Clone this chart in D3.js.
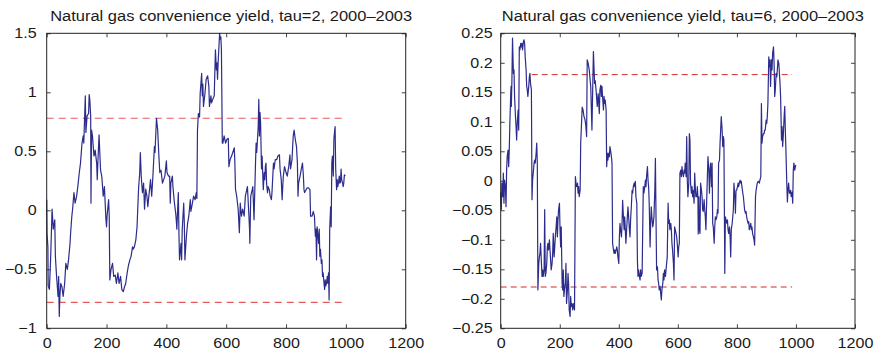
<!DOCTYPE html>
<meta charset="utf-8">

<!-- Load d3.js -->
<script src="https://d3js.org/d3.v7.min.js"></script>

<style>
  body { margin: 0; background: #fff; }
  text { font-family: "Liberation Sans", Arial, Helvetica, sans-serif; fill: #1a1a1a; }
</style>

<svg id="chart" width="879" height="352"></svg>

<script>
// ---- data ----
var xTicks = [0, 200, 400, 600, 800, 1000, 1200];

// left panel: tau = 2
var leftDays = [0,1,4,5,9,13,18,22,27,29,33,38,40,42,44,47,51,55,60,64,69,73,78,80,84,87,91,95,100,104,109,113,118,122,124,129,131,135,140,142,144,147,148,150,153,158,162,167,169,171,175,180,184,189,193,198,200,202,207,209,211,215,220,224,229,233,238,242,247,251,256,260,264,269,273,278,282,287,289,293,298,302,307,311,313,316,320,324,327,331,335,
  338,347,351,355,360,362,367,371,375,378,382,387,391,395,400,402,407,411,413,415,420,422,427,431,433,435,440,442,444,449,451,453,458,460,462,467,471,475,480,482,487,491,496,500,502,504,507,511,513,518,520,522,524,529,533,538,542,544,549,551,555,560,564,567,569,571,573,578,580,582,584,587,589,593,598,602,607,609,613,618,622,627,629,631,635,640,644,647,651,655,660,664,671,676,
  678,679,682,687,689,693,698,700,702,707,709,711,713,715,718,720,722,724,727,729,731,733,735,738,740,744,747,751,753,758,760,764,769,773,778,780,784,787,789,791,795,800,804,809,813,815,820,824,827,831,833,835,838,840,842,847,851,855,858,860,862,867,871,875,880,882,887,891,895,898,900,902,904,907,909,911,913,915,918,920,922,924,927,929,931,933,935,938,940,942,944,946,949,951,953,955,958,960,962,964,966,969,971,973,975,978,980,982,984,986,989,991,993,995,998];
var leftYield = [0.09,-0.19,-0.31,-0.64,-0.67,-0.42,0.01,-0.16,-0.08,-0.39,-0.56,-0.73,-0.56,-0.90,-0.73,-0.62,-0.65,-0.73,-0.62,-0.45,-0.50,-0.42,-0.28,-0.19,-0.05,0.02,0.15,0.06,0.12,0.20,0.32,0.40,0.57,0.63,0.57,0.97,0.66,0.80,0.82,0.98,0.94,0.80,0.06,0.68,0.63,0.46,0.51,0.40,0.26,0.40,0.64,0.34,0.29,0.12,0.20,-0.08,-0.14,-0.04,0.09,-0.05,-0.59,-0.50,-0.45,-0.56,-0.55,-0.62,-0.53,-0.62,-0.56,-0.67,-0.69,-0.65,-0.62,-0.53,-0.47,-0.42,-0.39,-0.31,-0.33,-0.31,-0.25,-0.14,0.18,0.32,0.49,0.29,0.15,0.23,0.01,0.18,0.12,
  0.03,0.26,0.12,0.29,0.54,0.49,0.78,0.68,0.46,0.32,0.34,0.23,0.26,0.29,0.42,0.32,0.29,0.29,0.06,0.23,0.29,0.20,0.06,-0.02,-0.08,-0.16,0.15,-0.19,-0.42,-0.28,-0.42,-0.16,0.06,-0.11,-0.42,-0.22,-0.11,-0.05,0.09,-0.01,0.06,0.12,0.09,0.15,0.10,0.68,0.82,0.79,0.99,1.16,0.97,1.07,0.88,0.99,1.11,1.14,1.05,0.88,0.97,0.91,0.94,0.97,1.36,1.19,1.25,1.11,1.25,1.50,1.45,1.47,1.36,0.57,0.57,0.63,0.57,0.60,0.61,0.37,0.43,0.46,0.49,0.53,0.40,0.18,0.12,0.01,-0.19,0.06,-0.05,0.01,-0.05,0.12,0.20,-0.05,
  -0.16,-0.28,0.12,0.175,0.20,-0.08,0.40,0.57,0.49,0.71,0.94,0.63,0.83,0.74,0.35,0.46,0.32,0.175,0.32,0.26,0.37,0.40,0.23,0.15,0.20,0.175,0.12,0.09,0.15,0.40,0.35,0.43,0.43,0.46,0.47,0.35,0.26,0.09,0.20,0.29,0.37,0.32,0.29,0.37,0.47,0.35,0.43,0.63,0.68,0.60,0.57,0.54,0.40,0.12,0.23,0.29,0.35,0.40,0.29,0.175,0.15,0.175,0.19,0.19,0.175,-0.05,-0.05,-0.01,-0.05,-0.22,-0.16,-0.42,-0.14,-0.22,-0.28,-0.16,-0.39,-0.33,-0.45,-0.42,-0.56,-0.53,-0.62,-0.67,-0.59,-0.64,-0.62,-0.56,-0.62,-0.53,-0.76,-0.16,0.03,-0.14,0.40,0.46,0.29,0.60,0.66,0.71,0.35,0.175,0.26,0.20,0.23,0.29,0.23,0.24,0.35,0.26,0.23,0.20,0.23,0.30,0.29];
var leftBand = [-0.78, 0.78];
var leftBandRange = [[0, 1000], [0, 1000]];
var leftYTicks = [-1, -0.5, 0, 0.5, 1, 1.5];

// right panel: tau = 6
var rightDays = [0,2,4,7,9,11,13,16,18,20,22,25,27,29,31,34,35,36,38,40,43,45,47,50,52,54,56,59,61,63,65,68,70,72,74,77,79,81,83,86,88,90,92,95,97,99,101,104,106,108,111,113,115,117,120,122,124,126,129,131,133,135,138,140,142,144,147,149,151,153,156,158,160,162,165,167,169,171,174,176,178,181,183,185,187,190,192,194,196,199,201,203,205,208,210,212,214,217,219,221,223,226,228,230,232,235,237,239,241,244,246,248,250,253,255,257,260,262,264,266,269,
  271,274,276,279,282,285,288,291,293,296,300,303,305,309,311,314,318,320,323,327,
  330,332,334,336,339,341,343,345,348,350,352,354,357,359,361,363,366,368,370,372,375,377,379,382,384,386,388,391,393,395,397,400,402,404,406,409,411,413,415,418,420,422,424,427,429,431,434,436,438,440,443,445,447,449,452,454,456,458,461,463,465,467,470,472,474,476,479,481,483,485,488,490,492,494,497,499,501,503,506,508,510,512,515,517,519,522,524,526,528,531,533,535,537,540,542,544,546,549,551,553,555,558,560,562,564,567,569,571,573,576,578,580,582,585,587,589,591,594,596,598,601,603,605,607,610,612,614,616,619,621,623,625,628,630,632,634,637,639,641,643,646,648,650,652,655,657,659,661,664,666,
  668,669,671,673,675,677,680,682,684,686,689,691,693,695,698,700,702,705,707,709,711,714,716,718,720,723,725,727,729,732,734,736,738,741,743,745,747,750,752,754,756,759,761,763,766,768,770,772,775,777,779,781,784,786,788,790,793,795,797,799,802,804,806,808,811,813,815,817,820,822,824,826,829,831,833,835,838,840,842,844,847,849,851,853,856,858,860,863,865,867,869,872,874,876,878,881,883,885,887,890,892,894,896,899,901,903,905,908,910,912,914,917,919,921,924,926,928,930,933,935,937,939,942,944,946,948,951,953,955,957,960,962,964,966,969,971,973,975,978,980,982,984,987,989,991,993,996,998,1000];
var rightYield = [-0.02,-0.049,-0.004,-0.027,0.013,-0.038,0.001,-0.01,-0.044,0.018,0.041,0.052,0.024,0.052,0.097,0.148,0.16,0.126,0.171,0.242,0.182,0.188,0.143,0.109,0.092,0.069,0.097,0.12,0.086,0.227,0.222,0.233,0.227,0.233,0.222,0.236,0.239,0.233,0.21,0.188,0.16,0.154,0.143,0.16,0.176,0.182,0.165,0.154,-0.032,0.001,0.018,0.03,0.035,0.03,0.047,0.064,0.03,-0.185,-0.14,-0.129,-0.123,-0.106,-0.14,-0.162,-0.151,-0.162,-0.151,-0.049,-0.162,-0.157,-0.14,-0.112,-0.106,-0.117,-0.1,-0.117,-0.134,-0.151,-0.14,-0.123,-0.089,-0.129,-0.112,-0.095,-0.083,-0.061,-0.095,-0.066,-0.049,-0.038,-0.083,-0.112,-0.078,-0.174,-0.185,-0.151,-0.196,-0.179,-0.174,-0.14,-0.208,-0.185,-0.157,-0.174,-0.219,-0.23,-0.196,-0.213,-0.208,-0.219,-0.208,-0.213,-0.219,0.007,-0.004,-0.01,-0.004,-0.021,-0.01,-0.027,-0.016,
  0.064,0.1,0.125,0.12,0.109,0.105,0.095,0.075,0.205,0.2,0.188,0.17,0.16,0.086,0.14,0.219,0.165,0.17,0.154,0.126,
  0.148,0.131,0.114,0.154,0.162,0.143,0.16,0.143,0.12,0.143,0.131,0.137,0.12,0.024,0.047,0.035,0.047,0.041,0.058,0.052,0.041,0.03,-0.106,-0.117,-0.123,-0.117,-0.123,-0.117,-0.112,-0.117,-0.129,-0.14,-0.095,-0.072,-0.083,-0.095,-0.072,-0.033,-0.055,-0.083,-0.061,-0.083,-0.106,-0.078,-0.061,-0.044,-0.066,-0.083,-0.095,-0.066,-0.038,-0.016,-0.021,-0.01,-0.004,-0.01,-0.001,-0.027,-0.038,-0.134,-0.162,-0.151,-0.162,-0.168,-0.151,-0.162,-0.157,-0.083,-0.01,-0.021,-0.01,0.001,-0.01,0.007,0.024,0.001,-0.01,-0.038,-0.112,-0.072,-0.044,-0.061,-0.078,-0.072,-0.061,-0.016,0.038,-0.061,-0.151,-0.146,-0.168,-0.174,-0.185,-0.179,-0.191,-0.202,-0.185,-0.174,-0.157,-0.168,-0.151,-0.162,-0.151,-0.14,-0.129,-0.038,-0.072,-0.066,-0.083,-0.072,-0.083,-0.106,-0.117,-0.14,-0.168,-0.078,-0.083,-0.089,-0.095,-0.106,-0.129,-0.112,-0.106,0.013,0.018,0.007,0.024,0.013,0.007,0.018,0.013,0.03,0.007,0.075,0.001,-0.027,-0.004,0.08,0.069,-0.004,-0.021,-0.01,-0.027,-0.016,-0.038,0.013,-0.01,-0.027,-0.027,-0.01,
  -0.03,-0.09,-0.027,-0.083,-0.089,-0.004,-0.016,-0.027,-0.049,-0.052,-0.032,-0.049,-0.061,-0.083,-0.027,0.007,0.041,0.018,-0.021,0.018,0.03,-0.01,0.03,-0.072,-0.078,-0.106,-0.078,-0.061,-0.066,-0.061,-0.049,-0.055,0.03,0.035,0.064,0.086,0.109,0.086,0.058,0.075,0.069,-0.157,-0.061,-0.066,-0.072,-0.066,-0.083,-0.089,-0.078,-0.095,-0.129,-0.083,-0.072,-0.061,-0.049,-0.004,-0.027,-0.055,-0.016,-0.016,-0.01,-0.004,-0.01,-0.004,0.001,-0.004,-0.001,-0.01,-0.021,-0.027,-0.038,-0.049,-0.055,-0.052,-0.061,-0.066,-0.072,-0.069,-0.083,-0.078,-0.072,-0.083,-0.078,-0.089,-0.095,-0.1,-0.109,-0.027,-0.016,-0.01,-0.004,-0.001,-0.001,-0.004,0.001,0.007,0.131,0.064,0.075,0.08,0.08,0.086,0.086,0.103,0.097,0.109,0.131,0.21,0.193,0.205,0.16,0.205,0.188,0.216,0.227,0.199,0.143,0.154,0.182,0.176,0.188,0.205,0.199,0.182,0.165,0.143,0.069,0.092,0.058,0.075,0.109,0.126,0.086,0.052,-0.004,-0.036,-0.016,-0.004,-0.021,-0.021,-0.016,-0.027,-0.019,-0.038,0.018,0.03,0.018,0.024,0.027];
var rightBand = [-0.18, 0.18];
var rightBandRange = [[0, 987], [105, 987]];
var rightYTicks = [-0.25, -0.2, -0.15, -0.1, -0.05, 0, 0.05, 0.1, 0.15, 0.2, 0.25];

var svg = d3.select("#chart");

// the original lettering is a little wider than Arial
var stretch = 1.15;

function drawPanel(p) {
    var x = d3.scaleLinear().domain([0, 1200]).range([p.left, p.right]);
    var y = d3.scaleLinear().domain(p.yDomain).range([p.bottom, p.top]);

    var g = svg.append("g");

    // x axis at bottom, mirrored ticks on top
    g.append("g")
        .attr("transform", "translate(0," + p.bottom + ")")
        .call(d3.axisBottom(x).tickValues(xTicks).tickSizeInner(-4).tickSizeOuter(0).tickPadding(10)
            .tickFormat(d3.format("d")));
    g.append("g")
        .attr("transform", "translate(0," + p.top + ")")
        .call(d3.axisTop(x).tickValues(xTicks).tickSizeInner(-4).tickSizeOuter(0).tickFormat(""));

    // y axis at left, mirrored ticks on right
    g.append("g")
        .attr("transform", "translate(" + p.left + ",0)")
        .call(d3.axisLeft(y).tickValues(p.yTicks).tickSizeInner(-4).tickSizeOuter(0).tickPadding(p.yPad)
            .tickFormat(function (d) { return d < 0 ? "\u2212" + String(-d) : String(d); }));
    g.append("g")
        .attr("transform", "translate(" + p.right + ",0)")
        .call(d3.axisRight(y).tickValues(p.yTicks).tickSizeInner(-4).tickSizeOuter(0).tickFormat(""));

    g.selectAll(".domain").remove();
    g.selectAll(".tick line").attr("stroke", "#444");
    g.selectAll(".tick text")
        .style("font-size", "14px")
        .attr("fill", "#1a1a1a")
        .each(function () {
            var t = d3.select(this);
            var tx = +t.attr("x") || 0;
            t.attr("x", 0).attr("transform", "translate(" + tx + ",0) scale(" + stretch + ",1)");
        });

    // threshold lines
    p.band.forEach(function (v, i) {
        g.append("line")
            .attr("x1", x(p.bandRange[i][0])).attr("x2", x(p.bandRange[i][1]))
            .attr("y1", y(v)).attr("y2", y(v))
            .attr("stroke", p.bandColor)
            .attr("stroke-width", p.bandWidth)
            .attr("stroke-dasharray", p.dash);
    });

    // the series
    var pts = p.days.map(function (d, i) { return [d, p.values[i]]; });
    g.append("path")
        .datum(pts)
        .attr("fill", "none")
        .attr("stroke", "#2c2c8c")
        .attr("stroke-width", 1.2)
        .attr("stroke-linejoin", "round")
        .attr("d", d3.line().x(function (d) { return x(d[0]); }).y(function (d) { return y(d[1]); }));

    // box
    g.append("rect")
        .attr("x", p.left).attr("y", p.top)
        .attr("width", p.right - p.left).attr("height", p.bottom - p.top)
        .attr("fill", "none").attr("stroke", "#222").attr("stroke-width", 1);

    g.append("text")
        .attr("x", (p.left + p.right) / 2 + 5)
        .attr("y", 20.5)
        .attr("text-anchor", "middle")
        .attr("textLength", 362)
        .attr("lengthAdjust", "spacingAndGlyphs")
        .style("font-size", "14px")
        .text(p.title);
}

drawPanel({
    left: 46.7, right: 405.7, top: 33.3, bottom: 328.3,
    yDomain: [-1, 1.5], yTicks: leftYTicks, yPad: 10,
    days: leftDays, values: leftYield,
    band: leftBand, bandRange: leftBandRange, bandColor: "#e85a5a", bandWidth: 1.2, dash: "7,5",
    title: "Natural gas convenience yield, tau=2, 2000\u20132003"
});

drawPanel({
    left: 500.7, right: 855, top: 33.3, bottom: 328.3,
    yDomain: [-0.25, 0.25], yTicks: rightYTicks, yPad: 8,
    days: rightDays, values: rightYield,
    band: rightBand, bandRange: rightBandRange, bandColor: "#d42a2a", bandWidth: 1, dash: "6,4",
    title: "Natural gas convenience yield, tau=6, 2000\u20132003"
});
</script>
